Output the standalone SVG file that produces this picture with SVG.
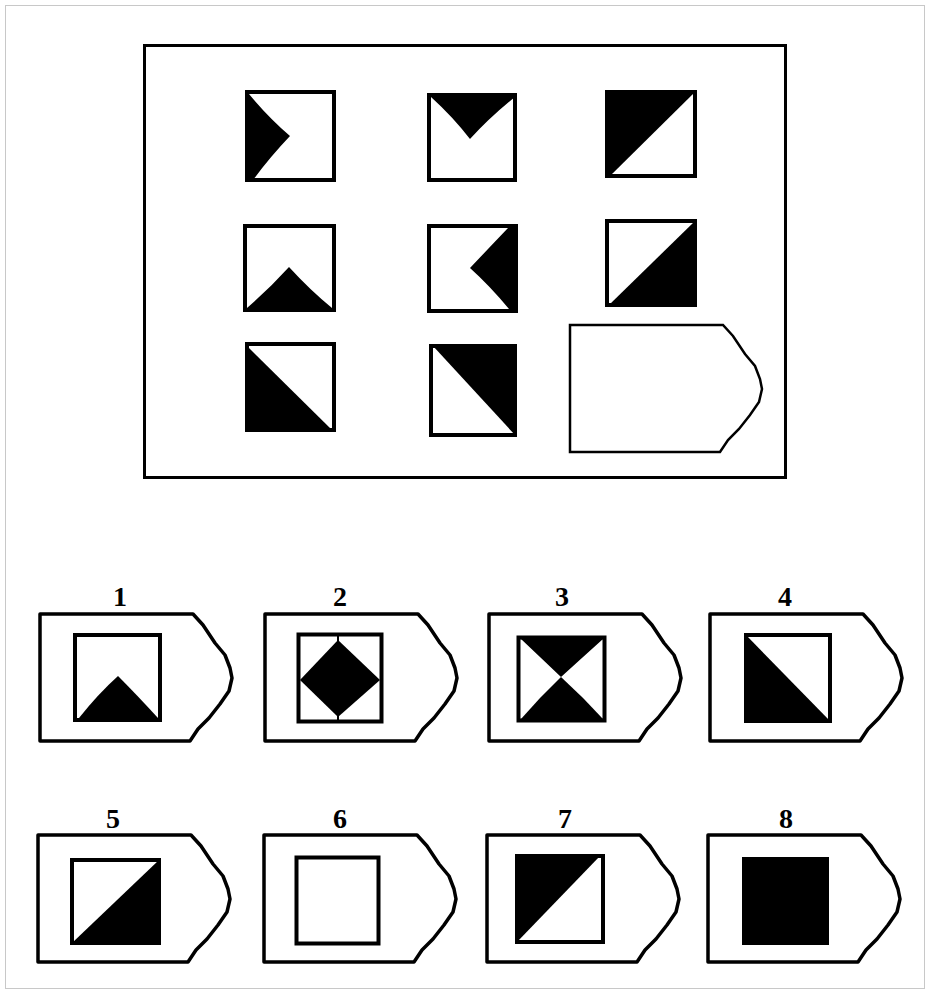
<svg xmlns="http://www.w3.org/2000/svg" width="930" height="994" viewBox="0 0 930 994">
<style>
.b{fill:#000;stroke:none}
.cell{fill:#fff;stroke:#000;stroke-width:4}
.tag{fill:#fff;stroke:#000;stroke-width:3.5;stroke-linejoin:round}
.lbl{font-family:"Liberation Serif",serif;font-weight:bold;font-size:28px;fill:#000;text-anchor:middle}
</style>
<defs>
<path id="tagp" d="M0,0 H153 L163,11 L175,29 L185,41 L190,54 L192,64 L189,77 L180,90 L169,104 L158,115 L150,127 H0 Z"/>
</defs>
<rect x="0" y="0" width="930" height="994" fill="#fff"/>
<rect x="5.5" y="5.5" width="919" height="983" fill="none" stroke="#c8c8c8" stroke-width="1"/>
<g id="matrix">
<rect x="144.5" y="45.5" width="641" height="432" fill="none" stroke="#000" stroke-width="3"/>
<g id="r1c1">
<rect class="cell" x="247" y="92" width="87" height="88"/>
<path class="b" d="M249,94 Q268,117 290,136 Q270,157 253,180 L249,180 Z"/>
</g>
<g id="r1c2">
<rect class="cell" x="429" y="95" width="86" height="85"/>
<path class="b" d="M431,97 L515,97 Q490,117 470,139 Q453,117 431,97 Z"/>
</g>
<g id="r1c3">
<rect class="cell" x="607" y="92" width="88" height="84"/>
<path class="b" d="M607,92 L695,92 L610,176 L607,176 Z"/>
</g>
<g id="r2c1">
<rect class="cell" x="245" y="226" width="89" height="84"/>
<path class="b" d="M247,308 Q268,290 289,267 Q310,290 332,308 Z"/>
</g>
<g id="r2c2">
<rect class="cell" x="429" y="226" width="87" height="85"/>
<path class="b" d="M508,228 Q487,250 470,268 Q490,286 509,309 L516,309 L516,228 Z"/>
</g>
<g id="r2c3">
<rect class="cell" x="607" y="221" width="88" height="84"/>
<path class="b" d="M609,305 L695,221 L695,305 Z"/>
</g>
<g id="r3c1">
<rect class="cell" x="247" y="344" width="87" height="86"/>
<path class="b" d="M247,346 L332,430 L247,430 Z"/>
</g>
<g id="r3c2">
<rect class="cell" x="431" y="346" width="84" height="89"/>
<path class="b" d="M433,346 L515,346 L515,435 Z"/>
</g>
<g id="answer-slot">
<use href="#tagp" transform="translate(570,325)" fill="#fff" stroke="#000" stroke-width="2.5"/>
</g>
</g>
<g id="connectors"></g>
<g id="opt1">
<text class="lbl" x="120" y="606">1</text>
<use href="#tagp" class="tag" transform="translate(40,614)"/>
<rect class="cell" x="75" y="635" width="85" height="85"/>
<path class="b" d="M79,718 Q98,694 118,676 Q136,694 158,718 Z"/>
</g>
<g id="opt2">
<text class="lbl" x="340" y="606">2</text>
<use href="#tagp" class="tag" transform="translate(265,614)"/>
<rect class="cell" x="298.5" y="634.5" width="83" height="87" stroke-width="3"/>
<path class="b" d="M338,640 L380,680 L338,717 L300,680 Z"/>
<path d="M338,635 V641 M338,716 V721" stroke="#000" stroke-width="2"/>
</g>
<g id="opt3">
<text class="lbl" x="562" y="606">3</text>
<use href="#tagp" class="tag" transform="translate(489,614)"/>
<rect class="cell" x="518.5" y="637.5" width="86" height="83" stroke-width="3"/>
<path class="b" d="M521,639 L603,639 Q583,657 561,677 Q540,657 521,639 Z"/>
<path class="b" d="M521,719 Q540,697 561,677 Q583,697 603,719 Z"/>
</g>
<g id="opt4">
<text class="lbl" x="785" y="606">4</text>
<use href="#tagp" class="tag" transform="translate(710,614)"/>
<rect class="cell" x="746" y="635" width="84" height="86"/>
<path class="b" d="M746,635 L830,721 L746,721 Z"/>
</g>
<g id="opt5">
<text class="lbl" x="113" y="828">5</text>
<use href="#tagp" class="tag" transform="translate(38,835)"/>
<rect class="cell" x="72" y="860" width="87" height="83"/>
<path class="b" d="M72,943 L159,860 L159,943 Z"/>
</g>
<g id="opt6">
<text class="lbl" x="340" y="828">6</text>
<use href="#tagp" class="tag" transform="translate(264,835)"/>
<rect class="cell" x="296.5" y="857.5" width="82" height="86" stroke-width="5"/>
</g>
<g id="opt7">
<text class="lbl" x="565" y="828">7</text>
<use href="#tagp" class="tag" transform="translate(487,835)"/>
<rect class="cell" x="517" y="856" width="86" height="86"/>
<path class="b" d="M517,856 L600,856 L517,942 Z"/>
</g>
<g id="opt8">
<text class="lbl" x="786" y="828">8</text>
<use href="#tagp" class="tag" transform="translate(708,835)"/>
<rect class="b" x="742" y="857" width="87" height="88"/>
</g>
</svg>
